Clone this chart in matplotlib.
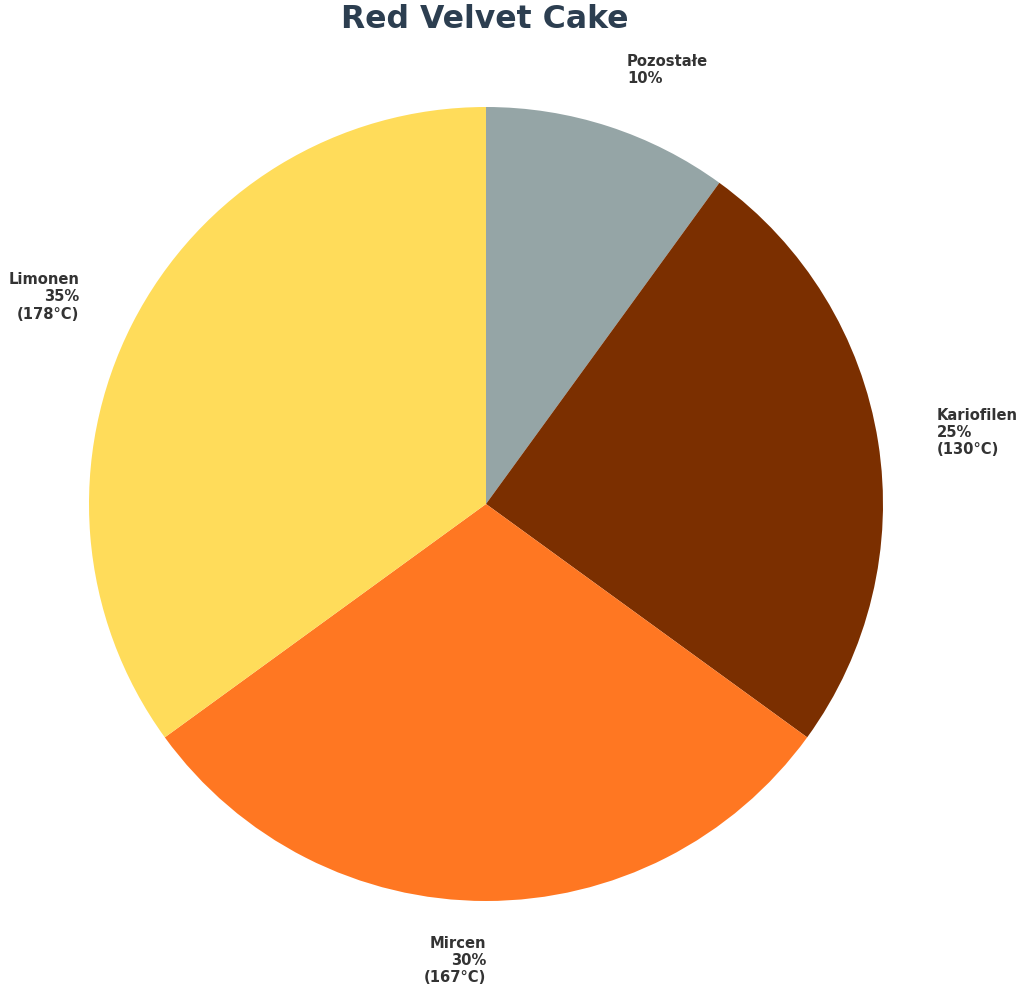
import matplotlib
matplotlib.use("Agg")
import matplotlib.pyplot as plt

names = ["Pozostałe", "Kariofilen", "Mircen", "Limonen"]
shares = [10, 25, 30, 35]
temps = [None, "130°C", "167°C", "178°C"]
colors = ["#95A5A6", "#7B2F00", "#FF7722", "#FFDC5A"]

labels = []
for n, s, t in zip(names, shares, temps):
    if t is None:
        labels.append(f"{n}\n{s}%")
    else:
        labels.append(f"{n}\n{s}%\n({t})")

fig = plt.figure(figsize=(10.24, 9.91), dpi=100)
ax = fig.add_axes([0, 0, 1, 1])
wedges, texts = ax.pie(shares, labels=labels, colors=colors, startangle=90,
                       counterclock=False, labeldistance=1.15,
                       textprops=dict(fontsize=10.6, fontweight="bold", color="#333333"))
for w, t in zip(wedges, texts):
    x, y = t.get_position()
    if abs(x) < 1e-6:
        t.set_horizontalalignment("right")

r_px = 397.0
cx, cy = 486.0, 504.0
W, H = 1024.0, 991.0
ax.set_xlim(-cx / r_px, (W - cx) / r_px)
ax.set_ylim(-(H - cy) / r_px, cy / r_px)
ax.set_aspect("auto")
ax.axis("off")

fig.text(485 / W, 1 - 20 / H, "Red Velvet Cake", ha="center", va="center",
         fontsize=22.7, fontweight="bold", color="#2C3E50")

fig.savefig("out.png", dpi=100)
